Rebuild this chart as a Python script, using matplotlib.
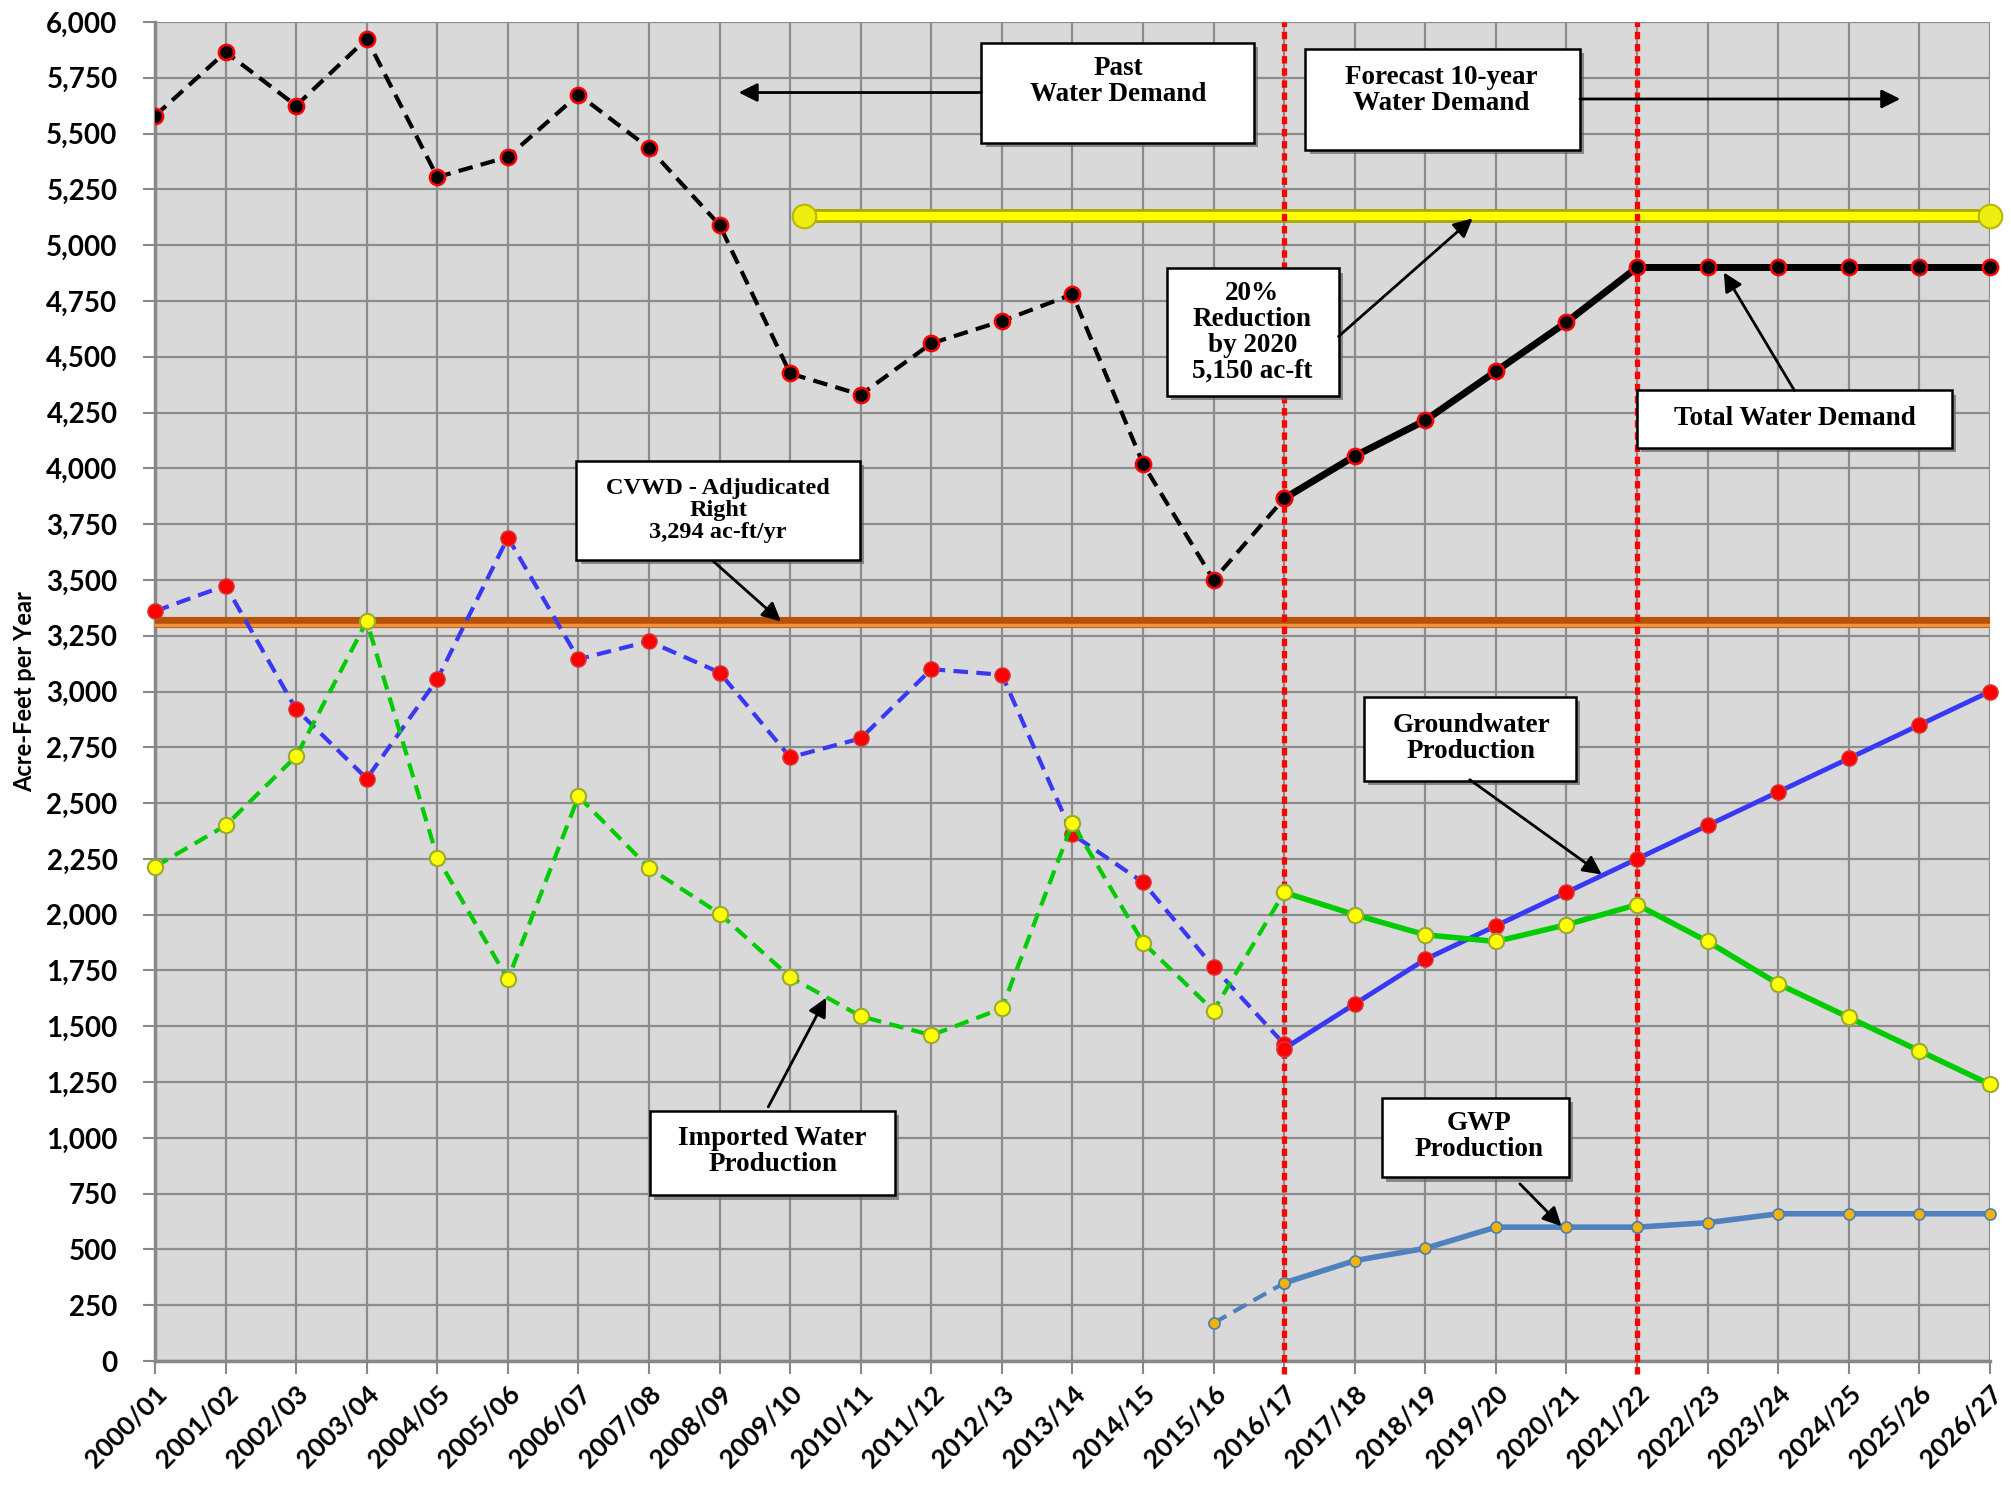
import matplotlib
matplotlib.use("Agg")
import matplotlib.pyplot as plt
import matplotlib.patheffects as pe
from matplotlib.patches import Rectangle
from matplotlib.ticker import FuncFormatter, MultipleLocator

years = ["2000/01", "2001/02", "2002/03", "2003/04", "2004/05", "2005/06", "2006/07",
         "2007/08", "2008/09", "2009/10", "2010/11", "2011/12", "2012/13", "2013/14",
         "2014/15", "2015/16", "2016/17", "2017/18", "2018/19", "2019/20", "2020/21",
         "2021/22", "2022/23", "2023/24", "2024/25", "2025/26", "2026/27"]

# past (2000/01 .. 2016/17)
total_past = [5580, 5865, 5625, 5925, 5305, 5395, 5675, 5435, 5090, 4425, 4330,
              4560, 4660, 4780, 4020, 3500, 3865]
ground_past = [3360, 3475, 2920, 2610, 3055, 3690, 3145, 3225, 3085, 2705, 2790,
               3100, 3075, 2360, 2145, 1765, 1420]
imported_past = [2215, 2400, 2710, 3315, 2255, 1710, 2530, 2210, 2005, 1720, 1545,
                 1460, 1580, 2410, 1875, 1570, 2100]
gwp_past = [170, 350]  # 2015/16 .. 2016/17

# forecast (2016/17 .. 2026/27)
total_fc = [3865, 4055, 4215, 4435, 4655, 4900, 4900, 4900, 4900, 4900, 4900]
ground_fc = [1400, 1600, 1800, 1950, 2100, 2250, 2400, 2550, 2700, 2850, 3000]
imported_fc = [2100, 2000, 1910, 1880, 1955, 2045, 1880, 1690, 1540, 1390, 1240]
gwp_fc = [350, 450, 505, 600, 600, 600, 620, 660, 660, 660, 660]

target_x = [9.2, 26]          # 20% reduction line
target_y = [5130, 5130]
right_y = 3312                 # CVWD adjudicated right
split_years = ["2016/17", "2021/22"]

n = len(years)
xp = list(range(len(total_past)))
xf = list(range(16, n))
xg = [15, 16]

fig = plt.figure(figsize=(20.11, 14.96), dpi=100)
ax = fig.add_axes([0.0771, 0.0902, 0.9124, 0.8951])
ax.set_facecolor("#d9d9d9")

ax.set_xlim(0, n - 1)
ax.set_ylim(0, 6000)
ax.set_xticks(range(n))
ax.set_xticklabels(years, rotation=45, ha="right", rotation_mode="anchor",
                   fontsize=19, fontweight="bold", family="Lato")
ax.yaxis.set_major_locator(MultipleLocator(250))
ax.yaxis.set_major_formatter(FuncFormatter(lambda v, p: f"{int(v):,}"))
for lb in ax.get_yticklabels():
    lb.set_family("Lato")
    lb.set_fontweight("bold")
    lb.set_fontsize(20)
ax.tick_params(axis="both", colors="#888888", length=9, width=1.5, labelcolor="black")
ax.tick_params(axis="y", pad=18)
ax.tick_params(axis="x", pad=6)
ax.grid(True, color="#8c8c8c", lw=1.6)
ax.set_axisbelow(True)
for s in ["top", "right"]:
    ax.spines[s].set_visible(False)
for s in ["left", "bottom"]:
    ax.spines[s].set_color("#888888")
    ax.spines[s].set_linewidth(2.5)
ax.set_ylabel("Acre-Feet per Year", fontsize=17, fontweight="bold", family="Lato", labelpad=7)

# horizontal reference lines
ax.plot(target_x, target_y, color="#a8a800", lw=10, solid_capstyle="butt", zorder=3)
ax.plot(target_x, target_y, color="#ffff00", lw=6, solid_capstyle="butt", zorder=3)
ax.plot(target_x, target_y, "o", ms=17, mfc="#eeee10", mec="#b8b800", mew=1.5, zorder=3,
        clip_on=False)
ax.axhline(right_y, color="#b85205", lw=8, zorder=3)
ax.axhline(right_y - 12, color="#ee9440", lw=2.5, zorder=3)

# vertical split lines
for yr in split_years:
    ax.axvline(years.index(yr), color="#ff0000", lw=3.8, ls=(0, (1.4, 0.9)),
               dash_capstyle="butt", zorder=4, ymin=-0.01, clip_on=False)

# series
dash = (0, (3.5, 2))
ax.plot(xp, total_past, color="black", lw=3, ls=dash, marker="o", ms=11,
        mfc="black", mec="#ff0000", mew=1.8, zorder=5)
ax.plot(xf, total_fc, color="black", lw=5, marker="o", ms=11,
        mfc="black", mec="#ff0000", mew=1.8, zorder=5, clip_on=False)

ax.plot(xp, ground_past, color="#3838f5", lw=3, ls=dash, marker="o", ms=11,
        mfc="#ff0000", mec="#d04040", mew=1, zorder=5, clip_on=False)
ax.plot(xf, ground_fc, color="#3838f5", lw=3.5, marker="o", ms=11,
        mfc="#ff0000", mec="#d04040", mew=1, zorder=5, clip_on=False)

ax.plot(xp, imported_past, color="#00cc00", lw=3, ls=dash, marker="o", ms=11,
        mfc="#ffff00", mec="#9aab30", mew=1.5, zorder=5, clip_on=False)
ax.plot(xf, imported_fc, color="#00cc00", lw=4, marker="o", ms=11,
        mfc="#ffff00", mec="#9aab30", mew=1.5, zorder=5, clip_on=False)

ax.plot(xg, gwp_past, color="#4f81bd", lw=3, ls=dash, marker="o", ms=8,
        mfc="#f2b400", mec="#4a7ebb", mew=1.2, zorder=5)
ax.plot(xf, gwp_fc, color="#4f81bd", lw=4, marker="o", ms=8,
        mfc="#f2b400", mec="#4a7ebb", mew=1.2, zorder=5, clip_on=False)

# annotation boxes: text, (x0, x1, y0, y1), text centre, arrow tail, arrow head, font size
boxes = [
    ("Past\nWater Demand", (11.71, 15.57, 5459, 5908), (13.65, 5735),
     (11.71, 5684), (8.27, 5684), 19.5),
    ("Forecast 10-year\nWater Demand", (16.30, 20.19, 5425, 5879), (18.23, 5695),
     (20.19, 5655), (24.73, 5655), 19.5),
    ("20%\nReduction\nby 2020\n5,150 ac-ft", (14.34, 16.77, 4326, 4896), (15.55, 4608),
     (16.77, 4591), (18.67, 5120), 19.5),
    ("Total Water Demand", (21.00, 25.46, 4090, 4349), (23.23, 4222),
     (23.23, 4349), (22.23, 4878), 19.5),
    ("CVWD - Adjudicated\nRight\n3,294 ac-ft/yr", (5.97, 9.99, 3590, 4033), (7.98, 3812),
     (7.91, 3584), (8.87, 3314), 17.5),
    ("Groundwater\nProduction", (17.13, 20.13, 2600, 2974), (18.65, 2790),
     (18.63, 2605), (20.50, 2180), 19.5),
    ("Imported Water\nProduction", (7.01, 10.48, 742, 1122), (8.75, 938),
     (8.69, 1139), (9.51, 1628), 19.5),
    ("GWP\nProduction", (17.38, 20.03, 823, 1179), (18.76, 1007),
     (19.34, 794), (19.93, 604), 19.5),
]
shadow = [pe.SimplePatchShadow(offset=(3, -3), shadow_rgbFace="#666666", alpha=0.7), pe.Normal()]
for txt, (x0, x1, y0, y1), (tx, ty), tail, head, fs in boxes:
    r = Rectangle((x0, y0), x1 - x0, y1 - y0, facecolor="white", edgecolor="black",
                  lw=1.8, zorder=6)
    r.set_path_effects(shadow)
    ax.add_patch(r)
    ax.text(tx, ty, txt, ha="center", va="center", fontsize=fs, fontweight="bold",
            family="Liberation Serif", linespacing=1.05, zorder=7)
    ax.annotate("", xy=head, xytext=tail,
                arrowprops=dict(arrowstyle="-|>", color="black", lw=2, mutation_scale=28,
                                shrinkA=0, shrinkB=0), zorder=6)

fig.savefig("out.png", dpi=100)
